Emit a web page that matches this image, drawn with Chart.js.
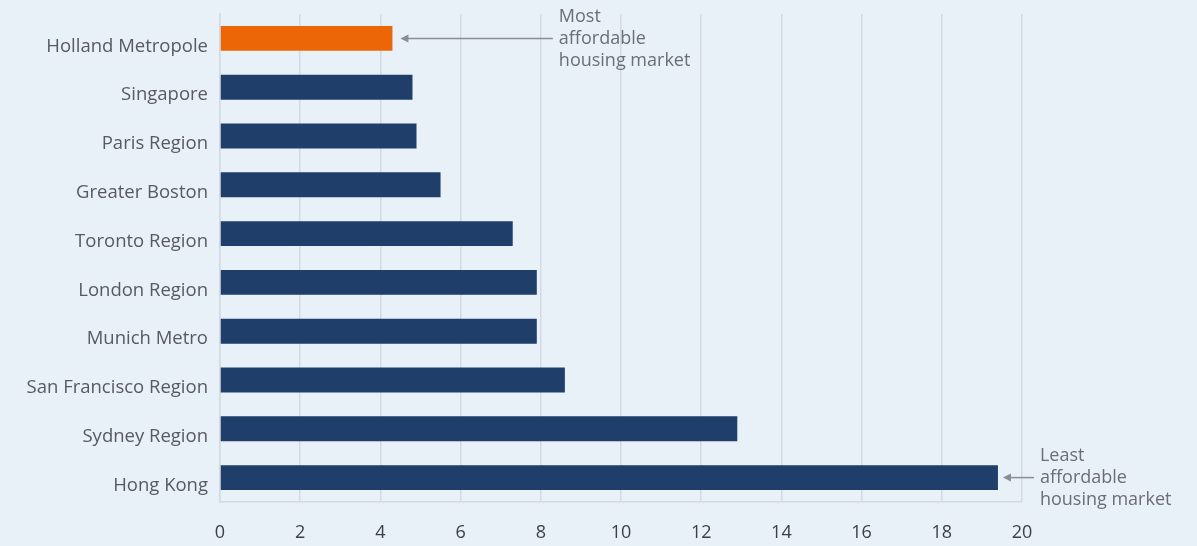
<!DOCTYPE html>
<html lang="en">
<head>
<meta charset="UTF-8">
<title>Housing affordability</title>
<script src="https://cdn.jsdelivr.net/npm/chart.js"></script>
<style>
  html, body { margin: 0; padding: 0; background: #e8f0f8; }
  #wrap { width: 1197px; height: 546px; position: relative; }
</style>
</head>
<body>
<div id="wrap"><canvas id="chart"></canvas></div>
<script>
// Data
const regions = ['Holland Metropole', 'Singapore', 'Paris Region', 'Greater Boston', 'Toronto Region',
  'London Region', 'Munich Metro', 'San Francisco Region', 'Sydney Region', 'Hong Kong'];
const ratios = [4.3, 4.8, 4.9, 5.5, 7.3, 7.9, 7.9, 8.6, 12.9, 19.4];
const xTicks = [0, 2, 4, 6, 8, 10, 12, 14, 16, 18, 20];

const navy = '#1f3e69';
const orange = '#ec6608';
const textGrey = '#575b60';
const gridGrey = '#d3dae3';
const fontFamily = '"Open Sans", Lato, sans-serif';

// Annotation notes: which bar they point at and their text lines
const notes = [
  { index: 0, lines: ['Most', 'affordable', 'housing market'], textAt: 8.45, gap: 8 },
  { index: 9, lines: ['Least', 'affordable', 'housing market'], textAt: null, gap: 5 }
];

const notePlugin = {
  id: 'notes',
  afterDraw(chart) {
    const ctx = chart.ctx;
    const x = chart.scales.x;
    const meta = chart.getDatasetMeta(0);
    ctx.save();
    ctx.font = '18px ' + fontFamily;
    ctx.strokeStyle = '#8a8d91';
    ctx.lineWidth = 1.5;
    ctx.textBaseline = 'middle';
    notes.forEach(n => {
      const y = meta.data[n.index].y;
      const startX = x.getPixelForValue(ratios[n.index]) + n.gap;
      const textX = n.textAt !== null ? x.getPixelForValue(n.textAt) : x.getPixelForValue(ratios[n.index]) + 42;
      const endX = textX - 6;
      ctx.beginPath();
      ctx.moveTo(startX + 6, y);
      ctx.lineTo(endX, y);
      ctx.stroke();
      ctx.beginPath();
      ctx.moveTo(startX, y);
      ctx.lineTo(startX + 8, y - 4);
      ctx.lineTo(startX + 8, y + 4);
      ctx.closePath();
      ctx.fillStyle = '#8a8d91';
      ctx.fill();
      ctx.fillStyle = '#6b6f74';
      n.lines.forEach((line, i) => {
        ctx.fillText(line, textX, y - 22 + i * 22);
      });
    });
    ctx.restore();
  }
};

new Chart(document.getElementById('chart'), {
  type: 'bar',
  data: {
    labels: regions,
    datasets: [{
      data: ratios,
      backgroundColor: ratios.map((v, i) => i === 0 ? orange : navy),
      barPercentage: 0.51,
      categoryPercentage: 1.0,
      borderWidth: 0
    }]
  },
  options: {
    indexAxis: 'y',
    responsive: true,
    maintainAspectRatio: false,
    animation: false,
    layout: { padding: { top: 14, right: 175, bottom: 4, left: 0 } },
    plugins: {
      legend: { display: false },
      tooltip: { enabled: false }
    },
    scales: {
      x: {
        min: 0,
        max: 20,
        afterBuildTicks: axis => { axis.ticks = xTicks.map(v => ({ value: v })); },
        grid: { color: gridGrey, lineWidth: 1.5, drawTicks: false },
        border: { color: gridGrey, width: 1.5 },
        ticks: { color: '#3d4146', font: { family: fontFamily, size: 18 }, padding: 20 },
        afterFit: axis => { axis.height = 40; axis.paddingLeft = 0; axis.paddingRight = 0; }
      },
      y: {
        grid: { display: false, drawTicks: false },
        border: { color: gridGrey, width: 1.5 },
        ticks: { color: textGrey, font: { family: fontFamily, size: 18.5 }, padding: 12, labelOffset: 8 },
        afterFit: axis => { axis.width = 220; axis.paddingTop = 0; axis.paddingBottom = 0; }
      }
    }
  },
  plugins: [notePlugin]
});
</script>
</body>
</html>
